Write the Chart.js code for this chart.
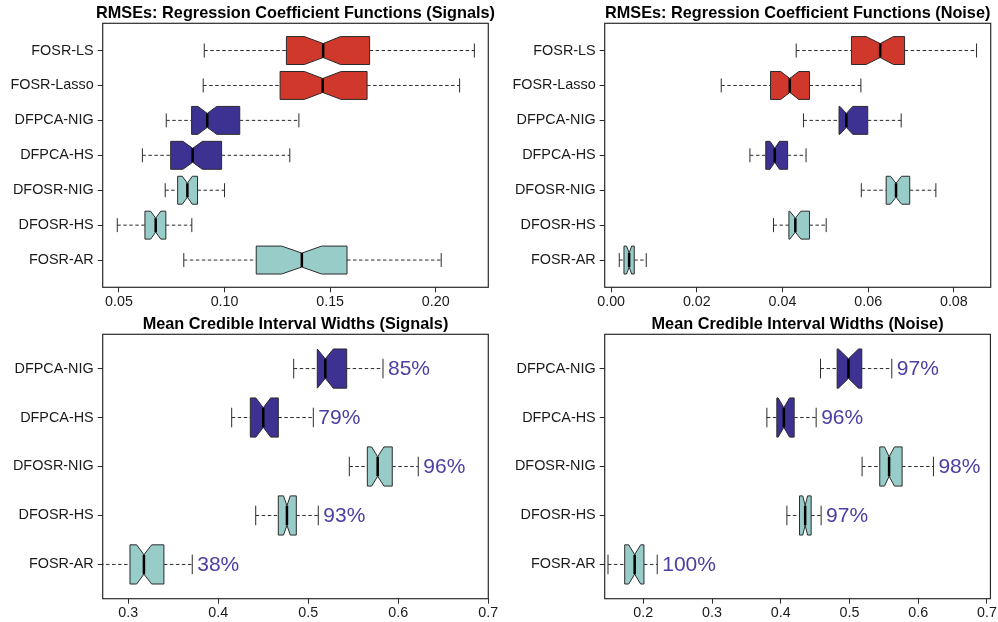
<!DOCTYPE html>
<html>
<head>
<meta charset="utf-8">
<script src="https://cdn.jsdelivr.net/npm/chart.js@4.4.1/dist/chart.umd.min.js"></script>
<style>
  html, body { margin: 0; padding: 0; background: #ffffff; }
  body { width: 998px; height: 622px; position: relative; overflow: hidden; }
  canvas { position: absolute; left: 0; top: 0; }
</style>
</head>
<body>
<canvas id="c1" width="998" height="622"></canvas>
<canvas id="c2" width="998" height="622"></canvas>
<canvas id="c3" width="998" height="622"></canvas>
<canvas id="c4" width="998" height="622"></canvas>
<script>
// ---------- Data ----------
const rmseCategories = ['FOSR-LS', 'FOSR-Lasso', 'DFPCA-NIG', 'DFPCA-HS', 'DFOSR-NIG', 'DFOSR-HS', 'FOSR-AR'];
const rmseGroups = ['red', 'red', 'blue', 'blue', 'teal', 'teal', 'teal'];

// RMSE (Signals)
const sigWhiskerLo = [0.0904, 0.0899, 0.0724, 0.0611, 0.0719, 0.0492, 0.0807];
const sigQ1        = [0.1293, 0.1263, 0.0844, 0.0745, 0.0778, 0.0623, 0.1150];
const sigNotchLo   = [0.1378, 0.1378, 0.0874, 0.0803, 0.0800, 0.0650, 0.1270];
const sigMedian    = [0.1467, 0.1465, 0.0918, 0.0849, 0.0824, 0.0674, 0.1366];
const sigNotchHi   = [0.1549, 0.1552, 0.0963, 0.0895, 0.0847, 0.0698, 0.1460];
const sigQ3        = [0.1687, 0.1675, 0.1072, 0.0986, 0.0872, 0.0722, 0.1580];
const sigWhiskerHi = [0.2183, 0.2113, 0.1352, 0.1309, 0.1000, 0.0845, 0.2026];
const sigTicks = [0.05, 0.10, 0.15, 0.20];
const sigTickLabels = ['0.05', '0.10', '0.15', '0.20'];

// RMSE (Noise)
const noiWhiskerLo = [0.0432, 0.0257, 0.0449, 0.0324, 0.0584, 0.0379, 0.0019];
const noiQ1        = [0.0561, 0.0372, 0.0532, 0.0361, 0.0642, 0.0415, 0.0030];
const noiNotchLo   = [0.0595, 0.0396, 0.0534, 0.0371, 0.0652, 0.0417, 0.0036];
const noiMedian    = [0.0628, 0.0417, 0.0549, 0.0382, 0.0665, 0.0430, 0.0042];
const noiNotchHi   = [0.0659, 0.0438, 0.0564, 0.0393, 0.0678, 0.0443, 0.0048];
const noiQ3        = [0.0685, 0.0463, 0.0599, 0.0412, 0.0697, 0.0463, 0.0054];
const noiWhiskerHi = [0.0853, 0.0583, 0.0677, 0.0455, 0.0758, 0.0502, 0.0082];
const noiTicks = [0.00, 0.02, 0.04, 0.06, 0.08];
const noiTickLabels = ['0.00', '0.02', '0.04', '0.06', '0.08'];

const ciCategories = ['DFPCA-NIG', 'DFPCA-HS', 'DFOSR-NIG', 'DFOSR-HS', 'FOSR-AR'];
const ciGroups = ['blue', 'blue', 'teal', 'teal', 'teal'];

// Mean credible interval widths (Signals)
const ciSigWhiskerLo = [0.4838, 0.4149, 0.5456, 0.4416, 0.2620];
const ciSigQ1        = [0.5100, 0.4356, 0.5656, 0.4667, 0.3019];
const ciSigNotchLo   = [0.5100, 0.4418, 0.5704, 0.4725, 0.3093];
const ciSigMedian    = [0.5189, 0.4500, 0.5771, 0.4763, 0.3174];
const ciSigNotchHi   = [0.5278, 0.4582, 0.5841, 0.4800, 0.3260];
const ciSigQ3        = [0.5427, 0.4667, 0.5933, 0.4867, 0.3396];
const ciSigWhiskerHi = [0.5830, 0.5056, 0.6222, 0.5111, 0.3711];
const ciSigCoverage  = ['85%', '79%', '96%', '93%', '38%'];
const ciSigTicks = [0.3, 0.4, 0.5, 0.6, 0.7];
const ciSigTickLabels = ['0.3', '0.4', '0.5', '0.6', '0.7'];

// Mean credible interval widths (Noise)
const ciNoiWhiskerLo = [0.4578, 0.3798, 0.5183, 0.4089, 0.1487];
const ciNoiQ1        = [0.4820, 0.3943, 0.5440, 0.4273, 0.1730];
const ciNoiNotchLo   = [0.4839, 0.3962, 0.5509, 0.4320, 0.1788];
const ciNoiMedian    = [0.4985, 0.4045, 0.5576, 0.4355, 0.1875];
const ciNoiNotchHi   = [0.5131, 0.4128, 0.5654, 0.4390, 0.1962];
const ciNoiQ3        = [0.5179, 0.4195, 0.5765, 0.4442, 0.2010];
const ciNoiWhiskerHi = [0.5615, 0.4515, 0.6221, 0.4587, 0.2203];
const ciNoiCoverage  = ['97%', '96%', '98%', '97%', '100%'];
const ciNoiTicks = [0.2, 0.3, 0.4, 0.5, 0.6, 0.7];
const ciNoiTickLabels = ['0.2', '0.3', '0.4', '0.5', '0.6', '0.7'];

// ---------- Styles ----------
const groupColors = { red: '#d0382c', blue: '#3d3192', teal: '#98ccc9' };
const coverageColor = '#4a3fa2';
const lineColor = '#2b2b2b';
const FONT = "'Liberation Sans', Arial, Helvetica, sans-serif";
Chart.defaults.font.family = FONT;

// ---------- Box plot plugin ----------
const notchedBoxPlugin = {
  id: 'notchedBox',
  afterDatasetsDraw(chart) {
    const o = chart.options.plugins.notchedBox;
    const ctx = chart.ctx;
    const xs = chart.scales.x, ys = chart.scales.y;
    const area = chart.chartArea;
    const unit = Math.abs(ys.getPixelForValue(2) - ys.getPixelForValue(1));
    const h = 0.4 * unit;      // half box height (boxwex 0.8)
    const hn = 0.2 * unit;     // half height at notch
    const hc = 0.2 * unit;     // half staple height
    ctx.save();
    ctx.beginPath();
    ctx.rect(area.left, area.top, area.right - area.left, area.bottom - area.top);
    ctx.clip();
    o.median.forEach((m, i) => {
      const y = ys.getPixelForValue(i + 1);
      const px = v => xs.getPixelForValue(v);
      const wl = px(o.whiskerLo[i]), q1 = px(o.q1[i]), nl = px(o.notchLo[i]);
      const md = px(m), nh = px(o.notchHi[i]), q3 = px(o.q3[i]), wh = px(o.whiskerHi[i]);
      // whiskers (dashed)
      ctx.strokeStyle = lineColor;
      ctx.lineWidth = 1;
      ctx.setLineDash([3.5, 2.5]);
      ctx.beginPath();
      ctx.moveTo(wl, y); ctx.lineTo(q1, y);
      ctx.moveTo(q3, y); ctx.lineTo(wh, y);
      ctx.stroke();
      ctx.setLineDash([]);
      // staples
      ctx.beginPath();
      ctx.moveTo(wl, y - hc); ctx.lineTo(wl, y + hc);
      ctx.moveTo(wh, y - hc); ctx.lineTo(wh, y + hc);
      ctx.stroke();
      // notched box
      ctx.beginPath();
      ctx.moveTo(q1, y - h);
      ctx.lineTo(nl, y - h);
      ctx.lineTo(md, y - hn);
      ctx.lineTo(nh, y - h);
      ctx.lineTo(q3, y - h);
      ctx.lineTo(q3, y + h);
      ctx.lineTo(nh, y + h);
      ctx.lineTo(md, y + hn);
      ctx.lineTo(nl, y + h);
      ctx.lineTo(q1, y + h);
      ctx.closePath();
      ctx.fillStyle = groupColors[o.groups[i]];
      ctx.fill();
      ctx.strokeStyle = lineColor;
      ctx.lineWidth = 1;
      ctx.stroke();
      // median
      ctx.beginPath();
      ctx.strokeStyle = '#000000';
      ctx.lineWidth = 2.5;
      ctx.moveTo(md, y - hn); ctx.lineTo(md, y + hn);
      ctx.stroke();
    });
    ctx.restore();
    // coverage labels
    if (o.coverage) {
      ctx.save();
      ctx.font = '21px ' + FONT;
      ctx.fillStyle = coverageColor;
      ctx.textAlign = 'left';
      ctx.textBaseline = 'middle';
      o.coverage.forEach((t, i) => {
        const y = ys.getPixelForValue(i + 1);
        ctx.fillText(t, xs.getPixelForValue(o.whiskerHi[i]) + 5, y + 1);
      });
      ctx.restore();
    }
    // frame
    ctx.save();
    ctx.strokeStyle = lineColor;
    ctx.lineWidth = 1.2;
    ctx.strokeRect(area.left, area.top, area.right - area.left, area.bottom - area.top);
    // title
    ctx.fillStyle = '#000000';
    ctx.font = 'bold 16.3px ' + FONT;
    ctx.textAlign = 'center';
    ctx.textBaseline = 'alphabetic';
    ctx.fillText(o.title, (area.left + area.right) / 2, area.top - 5);
    ctx.restore();
  }
};

function makeChart(id, cfg) {
  const n = cfg.categories.length;
  const ext = cfg.yExt;
  const cw = 998, chh = 622;
  new Chart(document.getElementById(id), {
    type: 'scatter',
    data: {
      datasets: [{
        data: cfg.median.map((m, i) => ({ x: m, y: i + 1 })),
        pointRadius: 0,
        showLine: false
      }]
    },
    options: {
      responsive: false,
      animation: false,
      events: [],
      layout: {
        padding: {
          left: cfg.area.left - 100,
          right: cw - cfg.area.right,
          top: cfg.area.top,
          bottom: chh - cfg.area.bottom - 30
        }
      },
      plugins: {
        legend: { display: false },
        tooltip: { enabled: false },
        title: { display: false },
        notchedBox: {
          title: cfg.title,
          groups: cfg.groups,
          whiskerLo: cfg.whiskerLo, q1: cfg.q1, notchLo: cfg.notchLo,
          median: cfg.median, notchHi: cfg.notchHi, q3: cfg.q3, whiskerHi: cfg.whiskerHi,
          coverage: cfg.coverage
        }
      },
      scales: {
        x: {
          type: 'linear',
          min: cfg.xMin, max: cfg.xMax,
          afterBuildTicks: s => { s.ticks = cfg.ticks.map(v => ({ value: v })); },
          afterFit: s => { s.height = 30; },
          ticks: {
            autoSkip: false, maxRotation: 0, padding: 1,
            color: '#1a1a1a', font: { size: 14.3, family: FONT },
            callback: (v, idx) => cfg.tickLabels[idx]
          },
          grid: { drawOnChartArea: false, drawTicks: true, tickLength: 5, tickColor: lineColor, tickWidth: 1 },
          border: { display: false }
        },
        y: {
          type: 'linear',
          reverse: true,
          min: 1 - ext, max: n + ext,
          afterBuildTicks: s => { s.ticks = cfg.categories.map((c, i) => ({ value: i + 1 })); },
          afterFit: s => { s.width = 100; },
          ticks: {
            autoSkip: false, padding: 4,
            color: '#1a1a1a', font: { size: 14.4, family: FONT },
            callback: (v) => cfg.categories[Math.round(v) - 1]
          },
          grid: { drawOnChartArea: false, drawTicks: true, tickLength: 5, tickColor: lineColor, tickWidth: 1 },
          border: { display: false }
        }
      }
    },
    plugins: [notchedBoxPlugin]
  });
}

makeChart('c1', {
  title: 'RMSEs: Regression Coefficient Functions (Signals)',
  categories: rmseCategories, groups: rmseGroups,
  whiskerLo: sigWhiskerLo, q1: sigQ1, notchLo: sigNotchLo, median: sigMedian,
  notchHi: sigNotchHi, q3: sigQ3, whiskerHi: sigWhiskerHi,
  ticks: sigTicks, tickLabels: sigTickLabels,
  xMin: 0.0423, xMax: 0.2249, yExt: 0.78,
  area: { left: 102.7, right: 488.3, top: 23.3, bottom: 287.3 }
});
makeChart('c2', {
  title: 'RMSEs: Regression Coefficient Functions (Noise)',
  categories: rmseCategories, groups: rmseGroups,
  whiskerLo: noiWhiskerLo, q1: noiQ1, notchLo: noiNotchLo, median: noiMedian,
  notchHi: noiNotchHi, q3: noiQ3, whiskerHi: noiWhiskerHi,
  ticks: noiTicks, tickLabels: noiTickLabels,
  xMin: -0.0015, xMax: 0.0886, yExt: 0.78,
  area: { left: 604.7, right: 990.7, top: 23.3, bottom: 287.3 }
});
makeChart('c3', {
  title: 'Mean Credible Interval Widths (Signals)',
  categories: ciCategories, groups: ciGroups,
  whiskerLo: ciSigWhiskerLo, q1: ciSigQ1, notchLo: ciSigNotchLo, median: ciSigMedian,
  notchHi: ciSigNotchHi, q3: ciSigQ3, whiskerHi: ciSigWhiskerHi, coverage: ciSigCoverage,
  ticks: ciSigTicks, tickLabels: ciSigTickLabels,
  xMin: 0.2716, xMax: 0.70, yExt: 0.7,
  area: { left: 102.7, right: 488.3, top: 334.3, bottom: 598.7 }
});
makeChart('c4', {
  title: 'Mean Credible Interval Widths (Noise)',
  categories: ciCategories, groups: ciGroups,
  whiskerLo: ciNoiWhiskerLo, q1: ciNoiQ1, notchLo: ciNoiNotchLo, median: ciNoiMedian,
  notchHi: ciNoiNotchHi, q3: ciNoiQ3, whiskerHi: ciNoiWhiskerHi, coverage: ciNoiCoverage,
  ticks: ciNoiTicks, tickLabels: ciNoiTickLabels,
  xMin: 0.1439, xMax: 0.705, yExt: 0.7,
  area: { left: 604.7, right: 990.7, top: 334.3, bottom: 598.7 }
});
</script>
</body>
</html>
